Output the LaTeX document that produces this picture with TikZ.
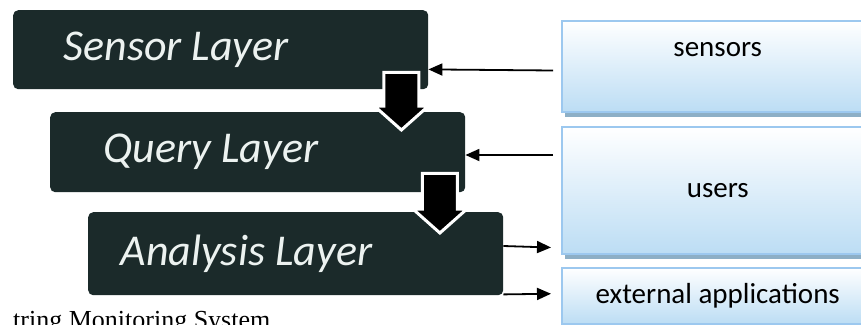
\documentclass[tikz,border=0pt]{standalone}
\usepackage{fontspec}
\setmainfont{Liberation Serif}
\newfontfamily\layerfont{Carlito}
\usetikzlibrary{calc,arrows.meta,shadows}

\definecolor{layerdark}{RGB}{27,42,42}
\definecolor{layerwhite}{RGB}{236,242,240}
\definecolor{boxblue}{RGB}{188,221,244}
\definecolor{boxline}{RGB}{156,200,239}
\definecolor{shadowblue}{RGB}{141,175,198}

\tikzset{
	layer/.style={draw=none, fill=layerdark, rounded corners=5pt, anchor=north west,
		minimum width=415pt, inner sep=0pt},
	layertext/.style={anchor=west, text=layerwhite, font=\layerfont\itshape\fontsize{44}{44}\selectfont},
	actor/.style={draw=boxline, line width=1.5pt, top color=white, bottom color=boxblue,
		anchor=north west, minimum width=312pt, inner sep=0pt,
		drop shadow={shadow xshift=3pt, shadow yshift=-5pt, fill=shadowblue, opacity=1},
		font=\layerfont\fontsize{29}{29}\selectfont},
	flow/.style={line width=1.8pt, -{Triangle[length=14pt,width=12pt]}},
	blockarrow/.style={fill=black, draw=white, line width=3pt, line join=miter}
}

% Blockpfeil nach unten: #1 oben, #2 Spitze
\newcommand{\blockdown}[2]{%
	\filldraw[blockarrow] ($(#1)+(-17.5,0)$) -- ($(#1)+(17.5,0)$) -- ($(#2)+(17.5,-24)$)
	-- ($(#2)+(27,-24)$) -- (#2) -- ($(#2)+(-27,-24)$) -- ($(#2)+(-17.5,-24)$) -- cycle;}

\begin{document}
\begin{tikzpicture}[x=1pt, y=-1pt]
	\useasboundingbox (0,0) rectangle (861,324);
	\clip (0,0) rectangle (861,324);

	% Schichten
	\node[layer, minimum height=79pt, label={[layertext, xshift=47pt]west:Sensor Layer}] (sensor) at (13,10) {};
	\node[layer, minimum height=80pt, label={[layertext, xshift=50pt]west:Query Layer}] (query) at (50,112) {};
	\node[layer, minimum height=83pt, label={[layertext, xshift=29pt]west:Analysis Layer}] (analysis) at (88,212) {};

	% Blockpfeile zwischen den Schichten
	\coordinate (sqtop) at ($(sensor.south east)+(-27,-17)$);
	\coordinate (sqtip) at ($(sqtop |- query.north)+(0,18)$);
	\blockdown{sqtop}{sqtip}
	\coordinate (qatop) at ($(query.south east)+(-25.5,-19)$);
	\coordinate (qatip) at ($(qatop |- analysis.north)+(0,21)$);
	\blockdown{qatop}{qatip}

	% Akteure rechts
	\node[actor, minimum height=91pt, label={[anchor=center, yshift=-30pt, font=\layerfont\fontsize{29}{29}\selectfont]north:sensors}] (sensors) at (561,20) {};
	\node[actor, minimum height=127pt] (users) at (561,126) {users};
	\node[actor, minimum height=56pt] (external) at (561,267) {external applications};

	% Verbindungen
	\draw[flow] ($(sensors.south west)+(-8,-42)$) -- ($(sensor.south east)+(0,-20)$);
	\draw[flow] ($(users.north west)+(-8,29)$) -- ($(query.north east)+(0,43)$);
	\draw[flow] ($(analysis.north east)+(0,34)$) -- ($(users.south west)+(-10,-7)$);
	\draw[flow] ($(analysis.south east)+(0,-1)$) -- ($(external.west)+(-10,-2)$);

	% Bildunterschrift (abgeschnitten)
	\node[anchor=base west, inner sep=0pt, font=\fontsize{26}{26}\selectfont] (caption) at (13,328) {tring Monitoring System};
\end{tikzpicture}
\end{document}
